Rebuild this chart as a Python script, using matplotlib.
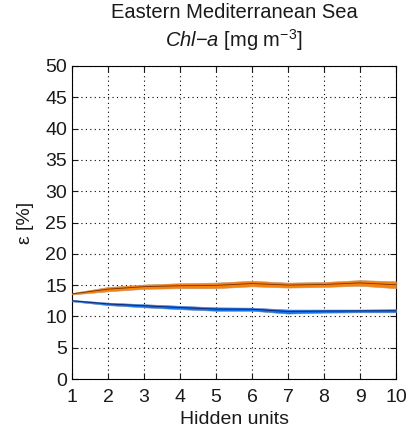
import matplotlib
matplotlib.use("Agg")
import matplotlib.pyplot as plt
import numpy as np

plt.rcParams["font.family"] = ["Liberation Sans", "DejaVu Sans"]
plt.rcParams["mathtext.fontset"] = "custom"
plt.rcParams["mathtext.rm"] = "Liberation Sans"
plt.rcParams["mathtext.it"] = "Liberation Sans:italic"

hidden_units = np.arange(1, 11)

# training error band (orange) and validation error band (blue)
orange_mid = [13.6, 14.35, 14.75, 14.9, 14.95, 15.25, 15.0, 15.1, 15.35, 15.05]
orange_lo = [13.5, 14.0, 14.4, 14.5, 14.5, 14.8, 14.6, 14.7, 14.9, 14.5]
orange_hi = [13.75, 14.7, 15.1, 15.3, 15.4, 15.7, 15.4, 15.5, 15.8, 15.6]

blue_mid = [12.5, 12.0, 11.7, 11.42, 11.17, 11.15, 10.78, 10.85, 10.88, 10.9]
blue_lo = [12.4, 11.8, 11.45, 11.15, 10.9, 10.9, 10.45, 10.6, 10.65, 10.65]
blue_hi = [12.65, 12.2, 11.95, 11.7, 11.45, 11.4, 11.1, 11.1, 11.1, 11.15]

fig = plt.figure(figsize=(4.08, 4.30), dpi=100)
ax = fig.add_axes((72 / 408, 51 / 430, 324 / 408, 313 / 430))

ax.fill_between(hidden_units, orange_lo, orange_hi, color="#f5820f",
                edgecolor="#c8905e", linewidth=0.4, zorder=3)
ax.plot(hidden_units, orange_mid, color="#7a3000", linewidth=0.6, zorder=4)

ax.fill_between(hidden_units, blue_lo, blue_hi, color="#1672ea",
                edgecolor="#6080b0", linewidth=0.4, zorder=3)
ax.plot(hidden_units, blue_mid, color="#0c2070", linewidth=0.6, zorder=4)

ax.set_xlim(1, 10)
ax.set_ylim(0, 50)
ax.set_xticks(hidden_units)
ax.set_yticks(np.arange(0, 51, 5))
ax.grid(True, color="black", linestyle=(0, (1, 3)), linewidth=0.8)
ax.tick_params(direction="in", top=True, right=True, length=4,
               labelsize=14, colors="#1a1a1a")
ax.tick_params(axis="x", pad=7)
ax.tick_params(axis="y", pad=3.5)
for s in ax.spines.values():
    s.set_linewidth(0.8)

ax.set_xlabel("Hidden units", fontsize=14, labelpad=4, color="#1a1a1a")
ax.set_ylabel("ε [%]", fontsize=14, labelpad=8, color="#1a1a1a")

fig.text(234 / 408, 1 - 13 / 430, "Eastern Mediterranean Sea",
         fontsize=14.5, ha="center", va="center", color="#1a1a1a")
fig.text(234 / 408, 1 - 40 / 430, "$\\mathit{Chl}\\mathrm{-}\\mathit{a}$ [mg m$^{-3}$]",
         fontsize=14.5, ha="center", va="center", color="#1a1a1a")

fig.savefig("out.png", dpi=100)
